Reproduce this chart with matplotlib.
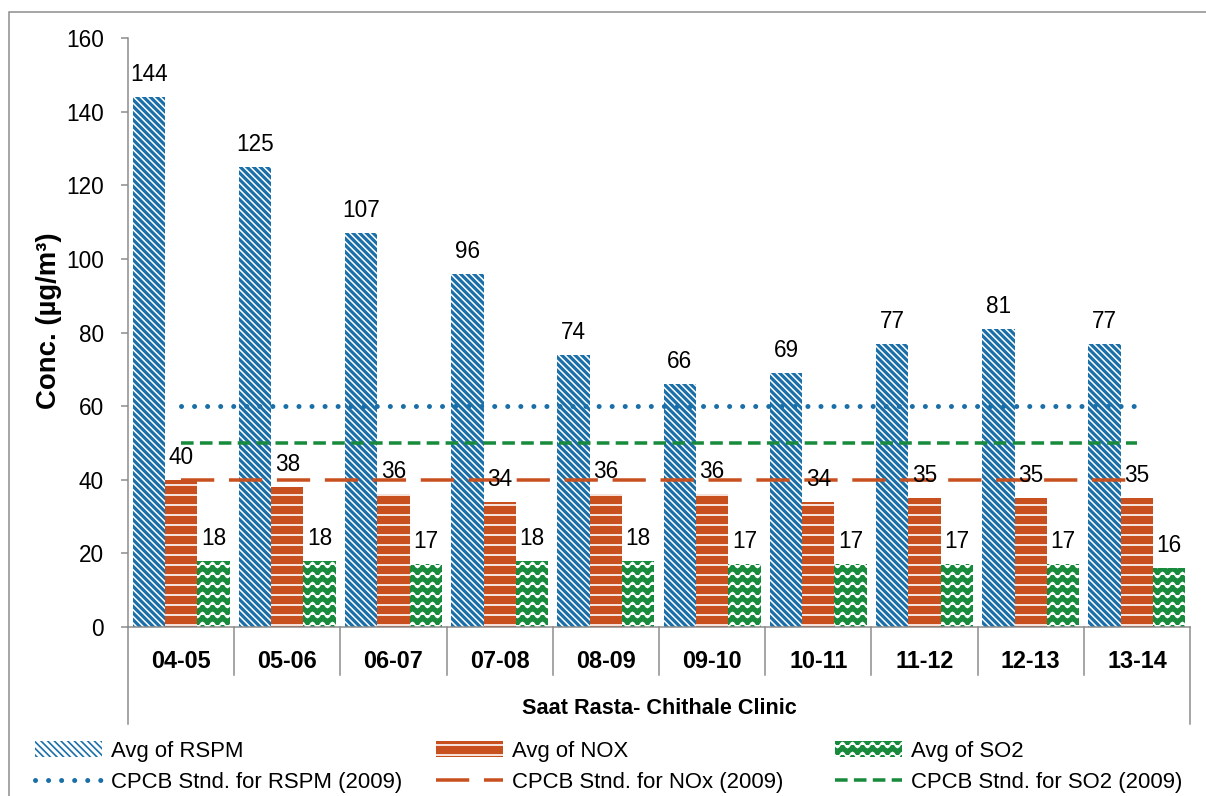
import numpy as np
import matplotlib
matplotlib.use('Agg')
import matplotlib.pyplot as plt
from matplotlib import hatch as mhatch
from matplotlib.path import Path
from matplotlib.patches import Rectangle

# data
years = ['04-05', '05-06', '06-07', '07-08', '08-09',
         '09-10', '10-11', '11-12', '12-13', '13-14']
rspm = [144, 125, 107, 96, 74, 66, 69, 77, 81, 77]
nox = [40, 38, 36, 34, 36, 36, 34, 35, 35, 35]
so2 = [18, 18, 17, 18, 18, 17, 17, 17, 17, 16]
std_rspm = [60] * len(years)
std_nox = [40] * len(years)
std_so2 = [50] * len(years)
station = 'Saat Rasta- Chithale Clinic'

BLUE = '#1b6fa8'
ORANGE = '#c8501e'
GREEN = '#178a3c'
GRAY = '#8a8a8a'


# wavy hatch for the SO2 bars (takes over the '*' hatch character)
class WaveHatch(mhatch.HatchPatternBase):
    def __init__(self, hatch, density):
        self.num_rows = int(hatch.count('*') * density)
        self.num_pts = self.num_rows * 8 + 1
        self.num_vertices = self.num_rows * self.num_pts

    def set_vertices_and_codes(self, vertices, codes):
        xs = np.linspace(0.0, 1.0, self.num_pts)
        wave = 0.25 / self.num_rows * np.sin(2 * np.pi * self.num_rows * xs)
        step = 1.0 / self.num_rows
        for i in range(self.num_rows):
            sl = slice(i * self.num_pts, (i + 1) * self.num_pts)
            vertices[sl, 0] = xs
            vertices[sl, 1] = step * (i + 0.5) + wave
            codes[sl] = Path.LINETO
            codes[i * self.num_pts] = Path.MOVETO


mhatch._hatch_types = [WaveHatch if t is mhatch.Stars else t
                       for t in mhatch._hatch_types]

plt.rcParams['font.family'] = ['Liberation Sans', 'DejaVu Sans']
plt.rcParams['font.size'] = 13

fig = plt.figure(figsize=(1206 / 120, 796 / 120), dpi=120)
ax = fig.add_axes([128 / 1206, 1 - 627 / 796, 1062 / 1206, 589 / 796])

x = np.arange(len(years))
w = 0.304


def hatched_bars(xpos, vals, face, edge, hatch, hlw, label):
    with plt.rc_context({'hatch.linewidth': hlw}):
        bars = ax.bar(xpos, vals, w, color=face, edgecolor=edge,
                      linewidth=0, hatch=hatch, label=label, zorder=2)
    for b in bars:
        if hasattr(b, 'set_hatch_linewidth'):
            b.set_hatch_linewidth(hlw)
    for xi, v in zip(xpos, vals):
        ax.annotate(f'{v:.0f}', (xi, v), xytext=(0, 13.5),
                    textcoords='offset points', ha='center', va='center',
                    fontsize=13.5, zorder=4)
    return bars


b1 = hatched_bars(x - w, rspm, 'white', BLUE, '\\' * 6, 1.9, 'Avg of RSPM')
b2 = hatched_bars(x, nox, ORANGE, 'white', '--', 1.0, 'Avg of NOX')
b3 = hatched_bars(x + w, so2, GREEN, 'white', '**', 1.0, 'Avg of SO2')

l1, = ax.plot(x, std_rspm, color=BLUE, lw=3.0, dashes=(0.01, 2.6),
              dash_capstyle='round', zorder=3,
              label='CPCB Stnd. for RSPM (2009)')
l2, = ax.plot(x, std_nox, color=ORANGE, lw=2.1, dashes=(9.5, 4.2),
              zorder=3, label='CPCB Stnd. for NOx (2009)')
l3, = ax.plot(x, std_so2, color=GREEN, lw=2.1, dashes=(3.6, 1.8),
              zorder=3, label='CPCB Stnd. for SO2 (2009)')

ax.set_xlim(-0.5, len(years) - 0.5)
ax.set_ylim(0, 160)
ax.set_yticks(range(0, 161, 20))
ax.tick_params(axis='y', length=4.5, width=0.9, color=GRAY, pad=10,
               labelsize=13.5)
ax.set_xticks(x, years, fontweight='bold', fontsize=14)
ax.tick_params(axis='x', length=0, pad=21)
for lab in ax.get_xticklabels():
    lab.set_va('center')

for side in ['top', 'right']:
    ax.spines[side].set_visible(False)
for side in ['left', 'bottom']:
    ax.spines[side].set_color(GRAY)
    ax.spines[side].set_linewidth(0.9)

# category separators under the axis
trans = ax.get_xaxis_transform()
for b in np.arange(0.5, len(years) - 1, 1.0):
    ax.plot([b, b], [0, -48 / 589], transform=trans, color=GRAY, lw=0.9,
            clip_on=False)
for b in [-0.5, len(years) - 0.5]:
    ax.plot([b, b], [0, -97 / 589], transform=trans, color=GRAY, lw=0.9,
            clip_on=False)

ax.text(0.5, -81 / 589, station, transform=ax.transAxes, ha='center',
        va='center', fontweight='bold', fontsize=13)

ax.set_ylabel('Conc. (µg/m³)', fontweight='bold', fontsize=16.5)
ax.yaxis.set_label_coords(-0.062, 0.52)

# one legend column per pollutant, placed like the original
for left, pair in [(35, (b1, l1)), (436, (b2, l2)), (835, (b3, l3))]:
    fig.legend(pair, [h.get_label() for h in pair], loc='upper left',
               bbox_to_anchor=(left / 1206, 1 - 741 / 796),
               frameon=False, fontsize=13.3, handlelength=3.0,
               handleheight=0.7, handletextpad=0.45, labelspacing=0.45,
               borderpad=0, borderaxespad=0)

fig.patches.append(Rectangle((9 / 1206, -0.1), 1.2, 1.1 - 12 / 796,
                             transform=fig.transFigure, fill=False,
                             edgecolor=GRAY, lw=0.9))

fig.savefig('out.png', dpi=120)
